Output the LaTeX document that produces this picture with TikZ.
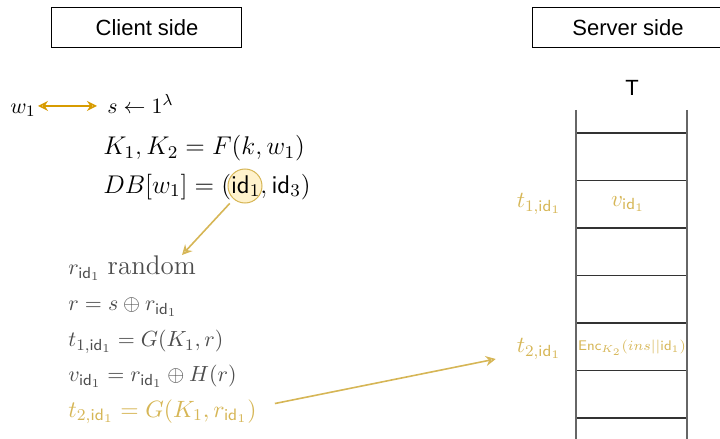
\RequirePackage{fix-cm}
\documentclass[tikz,border=0pt]{standalone}
\usepackage{amsmath,amssymb}
\usepackage{fontspec}
\newfontfamily\headfont{Liberation Sans}
\usetikzlibrary{positioning,arrows.meta,calc}
\definecolor{drawgold}{HTML}{D6B656}
\definecolor{draworange}{HTML}{D79B00}
\definecolor{noteyellow}{HTML}{FFF2CC}
\definecolor{stepgray}{HTML}{4D4D4D}
\newcommand{\idone}{\mathsf{id}_1}

\begin{document}
\begin{tikzpicture}[x=0.5pt,y=-0.5pt,
  sidebox/.style={rectangle,draw=black,line width=0.5pt,minimum width=95pt,
    minimum height=20pt,font=\headfont\fontsize{11}{13}\selectfont},
  eqn/.style={anchor=base west,inner sep=0pt,font=\fontsize{10.95}{12}\selectfont},
  bigeqn/.style={eqn,font=\fontsize{12.8}{14}\selectfont},
  stepeqn/.style={eqn,text=stepgray},
  goldeqn/.style={eqn,text=drawgold,font=\fontsize{11.8}{13}\selectfont},
  celltext/.style={text=drawgold,font=\fontsize{11.5}{13}\selectfont},
  wall/.style={line width=0.9pt,draw=black!60},
  slot/.style={line width=0.6pt,draw=black!80},
  goldarrow/.style={-{Stealth[open,length=5pt,width=5pt]},drawgold,line width=0.8pt}]
\useasboundingbox (0,0) rectangle (720,439);
% Headers
\node[sidebox] (client) at (147,27.5) {Client side};
\node[sidebox] (server) at (628,27.5) {Server side};
% Client side: keyword setup
\node[eqn] (w) at (10,113) {$w_1$};
\node[eqn] (seed) at (107,113) {$s \leftarrow 1^{\lambda}$};
\node[bigeqn] (keys) at (103,155) {$K_1, K_2 = F(k, w_1)$};
\node[circle,draw=drawgold,fill=noteyellow,line width=0.5pt,minimum size=17pt,
  inner sep=0pt] (hl) at (245,186) {};
\node[bigeqn] (db) at (103,193) {$DB[w_1] = (\idone, \mathsf{id}_3)$};
\draw[{Stealth[open,length=5pt,width=5pt]}-{Stealth[open,length=5pt,width=5pt]},
  draworange,line width=0.8pt] ([xshift=1pt,yshift=2pt]w.east)
  -- ([xshift=-5pt,yshift=2pt]w.east -| seed.west);
% Client side: per document
\node[stepeqn] (rnd) at (68,275) {$r_{\idone}$ {\fontsize{13.5}{14}\selectfont random}};
\node[stepeqn] (mask) at (68,311) {$r = s \oplus r_{\idone}$};
\node[stepeqn] (tone) at (68,347) {$t_{1,\idone} = G(K_1, r)$};
\node[stepeqn] (val) at (68,382) {$v_{\idone} = r_{\idone} \oplus H(r)$};
\node[goldeqn] (ttwo) at (68,417) {$t_{2,\idone} = G(K_1, r_{\idone})$};
\coordinate (rndtop) at (182,255);
\draw[goldarrow] ([xshift=-2pt,yshift=-2pt]hl.230) -- (rndtop);
% Server side: table T
\node[font=\headfont\fontsize{11}{13}\selectfont] (T) at (632,88) {T};
\draw[wall] (576,110) -- (576,439);
\draw[wall] (687,110) -- (687,439);
\foreach \y in {133,180.5,228,275.5,323,370.5,418}
  \draw[slot] (577,\y) -- (686,\y);
\node[celltext] (tlab1) at (539,204) {$t_{1,\idone}$};
\node[celltext] (vcell) at (628,204) {$v_{\idone}$};
\node[celltext] (tlab2) at (539,349) {$t_{2,\idone}$};
\node[celltext,font=\fontsize{7}{8}\selectfont] (enccell) at (632,348)
  {$\mathsf{Enc}_{K_2}(ins||\idone)$};
\draw[goldarrow] ([xshift=9pt,yshift=4pt]ttwo.east) -- ([xshift=-7pt,yshift=-5pt]tlab2.west);
\end{tikzpicture}
\end{document}
